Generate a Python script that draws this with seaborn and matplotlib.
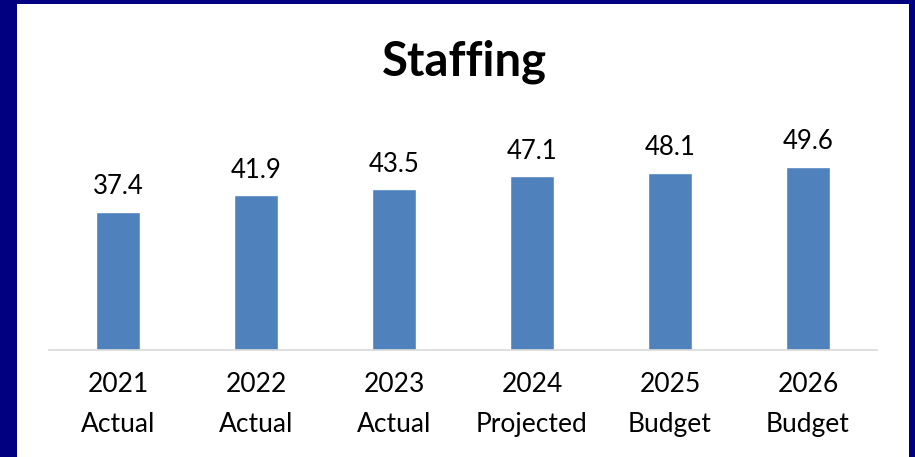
import matplotlib
matplotlib.use("Agg")
import matplotlib.pyplot as plt
import seaborn as sns
import pandas as pd
from matplotlib.patches import Rectangle

# chart data
years = ["2021", "2022", "2023", "2024", "2025", "2026"]
kinds = ["Actual", "Actual", "Actual", "Projected", "Budget", "Budget"]
staff = [37.4, 41.9, 43.5, 47.1, 48.1, 49.6]

labels = [y + "\n" + k for y, k in zip(years, kinds)]
df = pd.DataFrame({"label": labels, "staff": staff})

sns.set_theme(style="white")
plt.rcParams["font.family"] = ["Lato", "DejaVu Sans"]

W, H = 915, 457
fig = plt.figure(figsize=(W / 100, H / 100), dpi=100)
fig.patch.set_facecolor("#000080")
# white panel inside the navy frame (kept behind the axes)
fig.patches.append(Rectangle((17 / W, 0), (909 - 17) / W, (H - 4) / H,
                             transform=fig.transFigure, facecolor="white",
                             edgecolor="none", zorder=-10))

ax = fig.add_axes([49 / W, (H - 350) / H, (877 - 49) / W, 250 / H])
ax.set_facecolor("none")
ax.set_zorder(1)
sns.barplot(data=df, x="label", y="staff", color="#4F81BD", saturation=1,
            width=0.32, ax=ax)
ax.set_ylim(0, 250 / 3.69)
ax.set_xlim(-0.5, len(labels) - 0.5)
for c in ax.containers:
    ax.bar_label(c, fmt="%.1f", padding=9, fontsize=18.5, color="black")

ax.set_xlabel("")
ax.set_ylabel("")
ax.set_yticks([])
ax.tick_params(axis="x", length=0, pad=16, labelsize=19, colors="black")
for lab in ax.get_xticklabels():
    lab.set_linespacing(1.75)
for s in ["left", "right", "top"]:
    ax.spines[s].set_visible(False)
ax.spines["bottom"].set_color("#D9D9D9")
ax.spines["bottom"].set_linewidth(1.2)

fig.text(464 / W, 1 - 62 / H, "Staffing", ha="center", va="center",
         fontsize=34, fontweight="bold", color="black")

fig.savefig("out.png", dpi=100, facecolor=fig.get_facecolor())
